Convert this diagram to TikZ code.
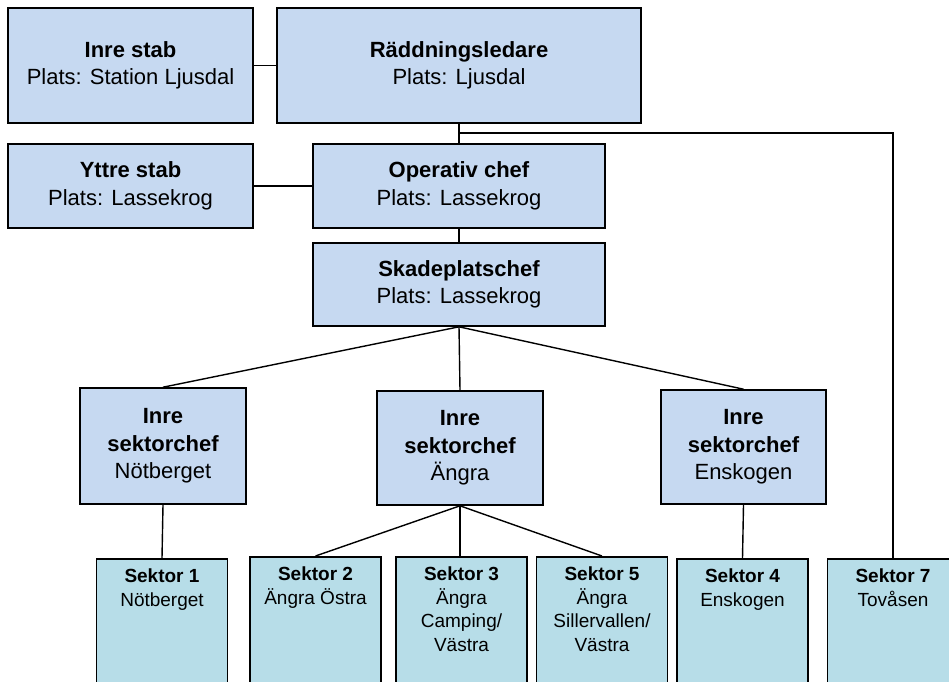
\documentclass[tikz,border=0pt]{standalone}
\usepackage{fontspec}
\setmainfont{Liberation Sans}
\definecolor{chefblue}{RGB}{198,217,241}
\definecolor{sektorblue}{RGB}{183,221,232}
\begin{document}
\begin{tikzpicture}[x=1pt, y=-1pt,
  chefbox/.style={draw=black, line width=1.6pt, fill=chefblue, align=center,
    inner sep=0pt, font=\fontsize{22}{27.5}\selectfont},
  sektorbox/.style={draw=black, line width=1.6pt, fill=sektorblue, anchor=north,
    minimum width=131pt, minimum height=150pt, inner sep=0pt},
  sektortext/.style={anchor=north, align=center, inner sep=0pt,
    font=\fontsize{19}{23.5}\selectfont},
  link/.style={draw=black, line width=1.4pt}]
\useasboundingbox (0,0) rectangle (949,681);
\clip (0,0) rectangle (949,681);

% Top level
\node[chefbox, minimum width=245pt, minimum height=115pt] (stabin) at (130.5,65.5)
  {\textbf{Inre stab}\\Plats: Station Ljusdal};
\node[chefbox, minimum width=364pt, minimum height=115pt] (rl) at (459,65.5)
  {\textbf{Räddningsledare}\\Plats: Ljusdal};

% Second level
\node[chefbox, minimum width=245pt, minimum height=84pt] (stabut) at (130.5,186)
  {\textbf{Yttre stab}\\Plats: Lassekrog};
\node[chefbox, minimum width=292pt, minimum height=84pt] (opchef) at (459,186)
  {\textbf{Operativ chef}\\Plats: Lassekrog};
\node[chefbox, minimum width=292pt, minimum height=83pt] (skp) at (459,284.5)
  {\textbf{Skadeplatschef}\\Plats: Lassekrog};

% Inre sektorchefer
\node[chefbox, minimum width=166pt, minimum height=116pt] (isc1) at (163,446)
  {\textbf{Inre}\\\textbf{sektorchef}\\Nötberget};
\node[chefbox, minimum width=166pt, minimum height=114pt] (isc2) at (460,448)
  {\textbf{Inre}\\\textbf{sektorchef}\\Ängra};
\node[chefbox, minimum width=165pt, minimum height=114pt] (isc3) at (743.5,447)
  {\textbf{Inre}\\\textbf{sektorchef}\\Enskogen};

% Sektorer
\node[sektorbox] (s1) at (162,558) {};
\node[sektorbox] (s2) at (315.5,556) {};
\node[sektorbox] (s3) at (461.5,556) {};
\node[sektorbox] (s5) at (602,556) {};
\node[sektorbox] (s4) at (742.5,558) {};
\node[sektorbox] (s7) at (893,558) {};

\node[sektortext] at ([yshift=-11pt]s1.north) {\textbf{Sektor 1}\\Nötberget};
\node[sektortext] at ([yshift=-11pt]s2.north) {\textbf{Sektor 2}\\Ängra Östra};
\node[sektortext] at ([yshift=-11pt]s3.north) {\textbf{Sektor 3}\\Ängra\\Camping/\\Västra};
\node[sektortext] at ([yshift=-11pt]s5.north) {\textbf{Sektor 5}\\Ängra\\Sillervallen/\\Västra};
\node[sektortext] at ([yshift=-11pt]s4.north) {\textbf{Sektor 4}\\Enskogen};
\node[sektortext] at ([yshift=-11pt]s7.north) {\textbf{Sektor 7}\\Tovåsen};

% Connectors
\coordinate (branch) at (459,133);
\draw[link] (stabin) -- (rl);
\draw[link] (stabut) -- (opchef);
\draw[link] (rl.south) -- (opchef.north);
\draw[link] (branch) -| (s7.north);
\draw[link] (opchef.south) -- (skp.north);
\draw[link] (skp.south) -- (isc1.north);
\draw[link] (skp.south) -- (isc2.north);
\draw[link] (skp.south) -- (isc3.north);
\draw[link] (isc1.south) -- (s1.north);
\draw[link] (isc2.south) -- (s2.north);
\draw[link] (isc2.south) -- (s3.north -| isc2.south);
\draw[link] (isc2.south) -- (s5.north);
\draw[link] (isc3.south) -- (s4.north);

\end{tikzpicture}
\end{document}
